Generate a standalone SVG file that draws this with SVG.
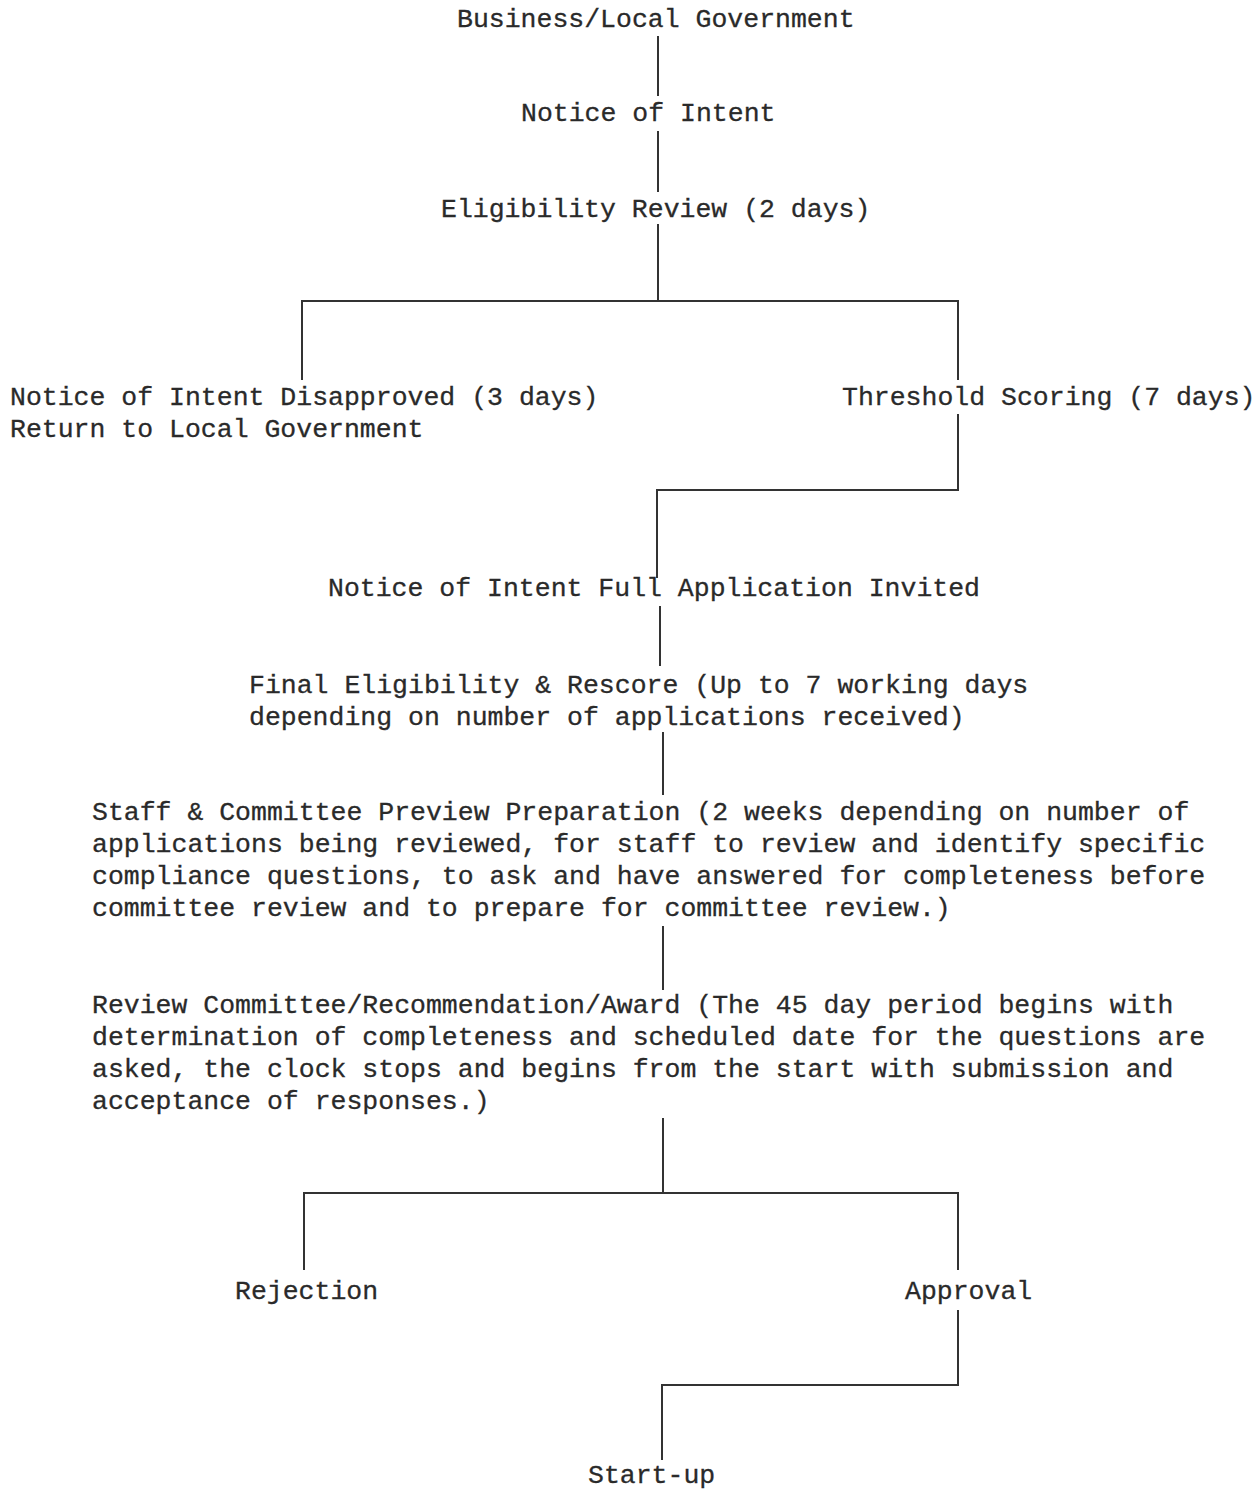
<svg xmlns="http://www.w3.org/2000/svg" width="1260" height="1491" viewBox="0 0 1260 1491">
<style>
text { font-family: "Liberation Mono", "Courier New", monospace; font-size: 26.5px; fill: #2a2a2a; stroke: #2a2a2a; stroke-width: 0.3; }
.c { fill: none; stroke: #333; stroke-width: 2; }
</style>
<rect width="1260" height="1491" fill="#ffffff"/>
<g id="connectors">
<path class="c" d="M658 36 V96"/>
<path class="c" d="M658 131 V192"/>
<path class="c" d="M658 224 V301"/>
<path class="c" d="M302 380 V301 H958 V380"/>
<path class="c" d="M958 414 V490 H657 V578"/>
<path class="c" d="M660 606 V666"/>
<path class="c" d="M663 732 V795"/>
<path class="c" d="M663 926 V990"/>
<path class="c" d="M663 1118 V1193"/>
<path class="c" d="M304 1270 V1193 H958 V1270"/>
<path class="c" d="M958 1310 V1385 H662 V1460"/>
</g>
<g id="business"><text x="457" y="27">Business/Local Government</text></g>
<g id="notice"><text x="521" y="121">Notice of Intent</text></g>
<g id="eligibility"><text x="441" y="217">Eligibility Review (2 days)</text></g>
<g id="disapproved"><text x="10" y="405">Notice of Intent Disapproved (3 days)</text><text x="10" y="437">Return to Local Government</text></g>
<g id="threshold"><text x="842" y="405">Threshold Scoring (7 days)</text></g>
<g id="invited"><text x="328" y="596">Notice of Intent Full Application Invited</text></g>
<g id="final"><text x="249" y="693">Final Eligibility &amp; Rescore (Up to 7 working days</text><text x="249" y="725">depending on number of applications received)</text></g>
<g id="staff"><text x="92" y="820">Staff &amp; Committee Preview Preparation (2 weeks depending on number of</text><text x="92" y="852">applications being reviewed, for staff to review and identify specific</text><text x="92" y="884">compliance questions, to ask and have answered for completeness before</text><text x="92" y="916">committee review and to prepare for committee review.)</text></g>
<g id="review"><text x="92" y="1013">Review Committee/Recommendation/Award (The 45 day period begins with</text><text x="92" y="1045">determination of completeness and scheduled date for the questions are</text><text x="92" y="1077">asked, the clock stops and begins from the start with submission and</text><text x="92" y="1109">acceptance of responses.)</text></g>
<g id="rejection"><text x="235" y="1299">Rejection</text></g>
<g id="approval"><text x="905" y="1299">Approval</text></g>
<g id="startup"><text x="588" y="1483">Start-up</text></g>
</svg>
